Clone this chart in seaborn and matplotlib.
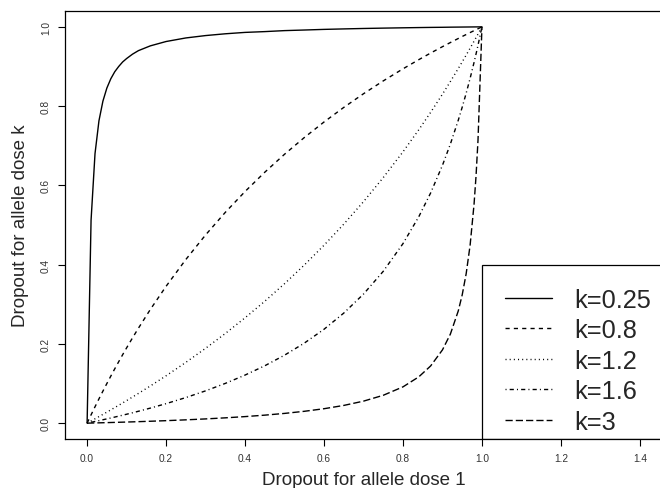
import matplotlib
matplotlib.use('Agg')

import numpy as np
import pandas as pd
import matplotlib.pyplot as plt
import seaborn as sns
from matplotlib.patches import Rectangle

# dropout for allele dose 1 (x) and read-off dropout for dose k (y)
dose1 = [0.0, 0.01, 0.02, 0.03, 0.04, 0.05, 0.06, 0.07, 0.08, 0.09, 0.10,
         0.115, 0.13, 0.16, 0.20, 0.25, 0.30, 0.35, 0.40, 0.45, 0.50, 0.55,
         0.60, 0.65, 0.70, 0.75, 0.80, 0.84, 0.87, 0.90, 0.92, 0.94, 0.95,
         0.96, 0.97, 0.98, 0.985, 0.99, 1.0]

k025 = [0.0, 0.512, 0.680, 0.763, 0.8125, 0.8455, 0.869, 0.8867, 0.900,
        0.9114, 0.920, 0.9311, 0.940, 0.952, 0.963, 0.972, 0.978, 0.9825,
        0.986, 0.988, 0.9905, 0.992, 0.9936, 0.9948, 0.9959, 0.9968, 0.9976,
        0.9982, 0.9986, 0.9989, 0.9992, 0.9994, 0.9995, 0.9996, 0.9997,
        0.9998, 0.99985, 0.9999, 1.0]
k08 = [0.0, 0.0209, 0.0413, 0.0613, 0.0808, 0.0999, 0.1187, 0.1371, 0.1550,
       0.1727, 0.1899, 0.2152, 0.2397, 0.2867, 0.3453, 0.4129, 0.4749, 0.5319,
       0.5845, 0.6332, 0.6785, 0.7206, 0.7599, 0.7967, 0.8312, 0.8636, 0.8941,
       0.9172, 0.9339, 0.9500, 0.9604, 0.9706, 0.9757, 0.9806, 0.9856, 0.9904,
       0.9928, 0.9952, 1.0]
k12 = [0.0, 0.00545, 0.01096, 0.01652, 0.02212, 0.02779, 0.0335, 0.03927,
       0.04509, 0.05097, 0.0569, 0.06591, 0.07505, 0.09373, 0.1195, 0.1533,
       0.1888, 0.2262, 0.2658, 0.3076, 0.3519, 0.3989, 0.4489, 0.5021, 0.5589,
       0.6196, 0.6847, 0.7403, 0.7842, 0.8301, 0.8620, 0.8948, 0.9116, 0.9287,
       0.9461, 0.9638, 0.9727, 0.9817, 1.0]
k16 = [0.0, 0.00209, 0.00421, 0.00636, 0.00855, 0.01078, 0.01304, 0.01534,
       0.01768, 0.02006, 0.02248, 0.02619, 0.0300, 0.03793, 0.0492, 0.06455,
       0.08149, 0.1003, 0.1213, 0.1448, 0.1715, 0.2019, 0.2369, 0.2777,
       0.3257, 0.3831, 0.4530, 0.5208, 0.5808, 0.6507, 0.7042, 0.7643, 0.7973,
       0.8324, 0.8700, 0.9103, 0.9315, 0.9535, 1.0]
k3 = [0.0, 0.00025, 0.00051, 0.00078, 0.00105, 0.00132, 0.00161, 0.00189,
      0.00219, 0.00249, 0.00279, 0.00326, 0.00375, 0.00478, 0.00626, 0.00833,
      0.01068, 0.01339, 0.01652, 0.0202, 0.02458, 0.02988, 0.03642, 0.04471,
      0.05553, 0.07029, 0.09157, 0.1168, 0.1443, 0.1849, 0.2247, 0.2831,
      0.3238, 0.3769, 0.4490, 0.5525, 0.6233, 0.7139, 1.0]

labels = ['k=0.25', 'k=0.8', 'k=1.2', 'k=1.6', 'k=3']
curves = [k025, k08, k12, k16, k3]

x_ticks = [0.0, 0.2, 0.4, 0.6, 0.8, 1.0, 1.2, 1.4]
y_ticks = [0.0, 0.2, 0.4, 0.6, 0.8, 1.0]

df = pd.concat([
    pd.DataFrame({'dose1': dose1, 'dosek': ys, 'k': lab})
    for lab, ys in zip(labels, curves)
], ignore_index=True)

sns.set_theme(style='white')
plt.rcParams['font.family'] = ['Liberation Sans', 'DejaVu Sans']
plt.rcParams['lines.scale_dashes'] = False

# R style line types, in points
dash_map = {
    'k=0.25': '',
    'k=0.8': (3, 3),
    'k=1.2': (0.75, 2.25),
    'k=1.6': (0.75, 2.25, 3, 2.25),
    'k=3': (5.2, 2.2),
}

fig = plt.figure(figsize=(6.6, 4.89), dpi=100)
ax = fig.add_axes([65 / 660, 49 / 489, 597 / 660, 428 / 489])

sns.lineplot(data=df, x='dose1', y='dosek', style='k', style_order=labels,
             dashes=dash_map, color='black', linewidth=1.0, legend=False,
             ax=ax, sort=False)

ax.set_xlim(-0.056, 1.456)
ax.set_ylim(-0.04, 1.04)
ax.set_xticks(x_ticks)
ax.set_yticks(y_ticks)
ax.set_xticklabels([f'{t:.1f}' for t in x_ticks])
ax.set_yticklabels([f'{t:.1f}' for t in y_ticks], rotation=90, va='center')

for s in ax.spines.values():
    s.set_color('black')
    s.set_linewidth(0.9)
ax.tick_params(axis='both', which='major', direction='out', length=5,
               width=0.8, color='black', labelsize=7.3, labelcolor='#333333',
               bottom=True, left=True, pad=5)

ax.set_xlabel('Dropout for allele dose 1', fontsize=13.5)
ax.set_ylabel('Dropout for allele dose k', fontsize=13.5)
ax.xaxis.set_label_coords(0.5, (440 - 481) / 428)
ax.xaxis.label.set_va('center')
ax.yaxis.set_label_coords((20 - 65) / 597, 0.5)
ax.yaxis.label.set_va('center')

# legend box: top-left corner at (1, 0.4)
ax.add_patch(Rectangle((1.0, -0.04), 1.0, 0.44, fill=False,
                       edgecolor='black', linewidth=0.9))
handles = ax.get_lines()[:len(labels)]
ax.legend(handles, labels, loc='upper left', bbox_to_anchor=(1.0, 0.4),
          bbox_transform=ax.transData, frameon=False, fontsize=18.3,
          handlelength=1.85, handletextpad=0.9, labelspacing=0.26,
          borderpad=0.9, borderaxespad=0)

fig.savefig('out.png', dpi=100)
